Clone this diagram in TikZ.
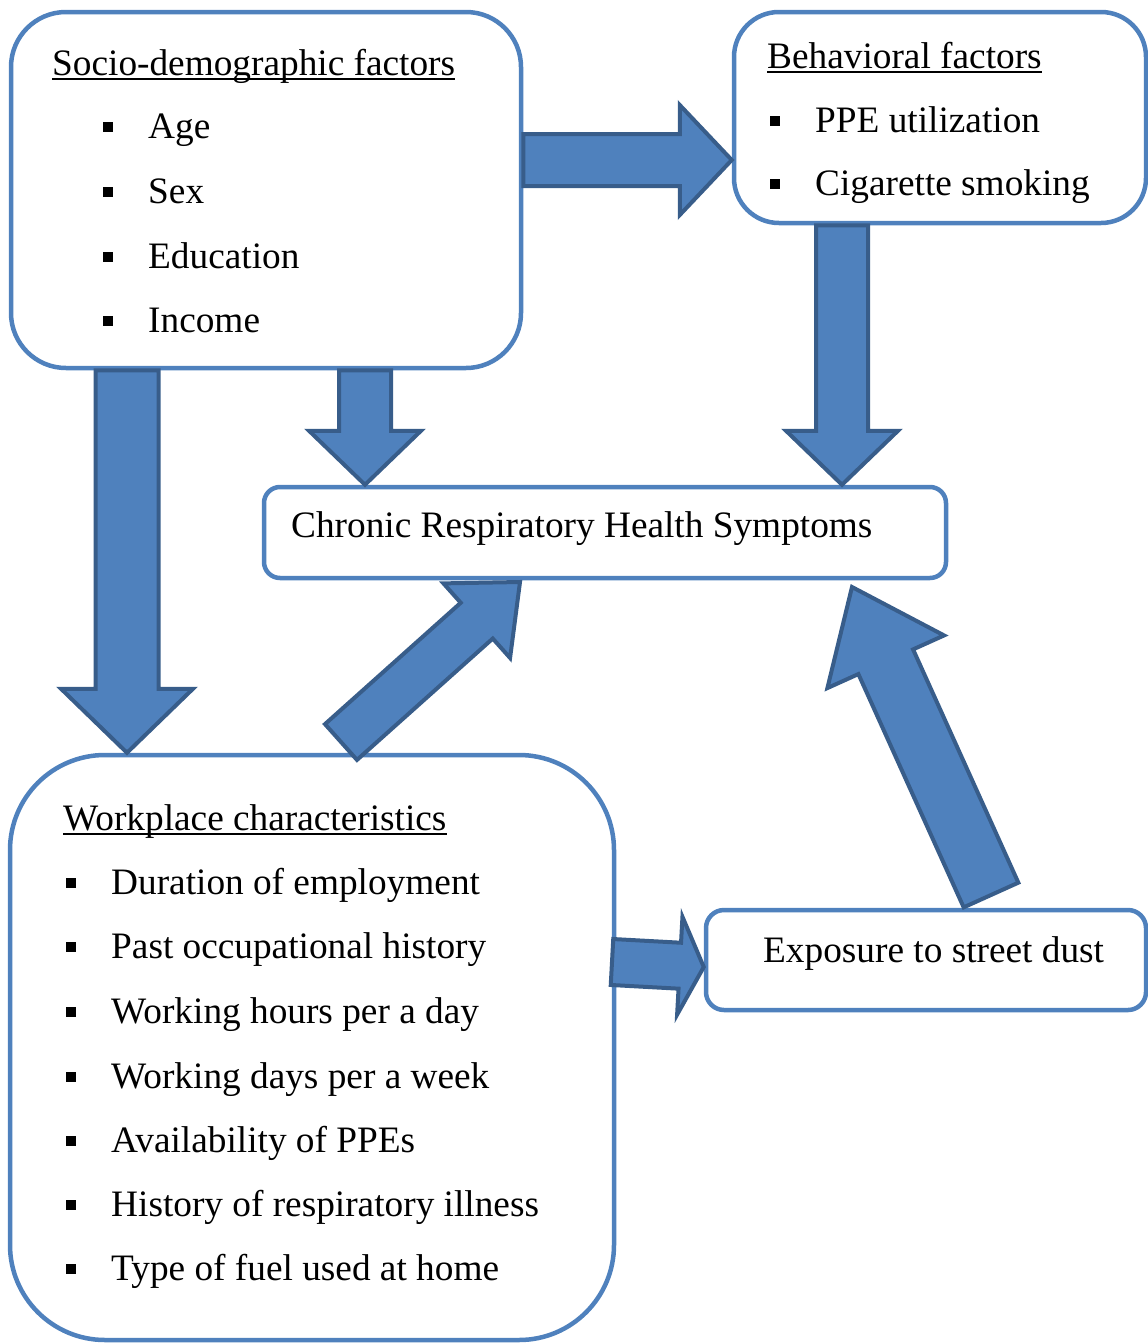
\documentclass[tikz,border=0pt]{standalone}
\usepackage{fontspec}
\setmainfont{Liberation Serif}
\usetikzlibrary{calc}
\definecolor{boxblue}{HTML}{4F81BD}
\definecolor{arrowedge}{HTML}{385D8A}
\tikzset{
  rbox/.style={draw=boxblue, line width=4.5pt, fill=white, rectangle, inner sep=0pt},
  barrow/.style={fill=boxblue, draw=arrowedge, line width=4pt, line join=miter},
  txt/.style={anchor=base west, inner sep=0pt, font=\fontsize{37.3}{44}\selectfont},
  ulline/.style={line width=2pt},
}
\newcommand\bul{\rule[6pt]{10pt}{10pt}}
\newcommand\itm[1]{\makebox[45pt][l]{\bul}#1}
% #1 name, #2 tail, #3 tip, #4 half shaft, #5 half head, #6 head length
\newcommand\blockarrow[6]{%
  \coordinate (#1-n) at ($(#3)!#6!(#2)$);
  \draw[barrow] ($(#2)!#4!90:(#3)$) -- ($(#1-n)!#4!90:(#3)$) -- ($(#1-n)!#5!90:(#3)$) -- (#3)
    -- ($(#1-n)!#5!-90:(#3)$) -- ($(#1-n)!#4!-90:(#3)$) -- ($(#2)!#4!-90:(#3)$) -- cycle;
}
\begin{document}
\begin{tikzpicture}[x=1pt,y=-1pt]
\useasboundingbox (0,0) rectangle (1148,1344);
% boxes
\node[rbox, rounded corners=55pt, minimum width=510pt, minimum height=356pt] (socio) at (266,190) {};
\node[rbox, rounded corners=45pt, minimum width=412pt, minimum height=211pt] (behav) at (940,117.5) {};
\node[rbox, rounded corners=16pt, minimum width=682pt, minimum height=91pt] (chronic) at (605,532.5) {};
\node[rbox, rounded corners=95pt, minimum width=604pt, minimum height=585pt] (work) at (312,1047.5) {};
\node[rbox, rounded corners=18pt, minimum width=440pt, minimum height=100pt] (expo) at (926,960) {};

% texts
\node[txt] (sh) at (52,75) {Socio-demographic factors};
\draw[ulline] ([yshift=-4pt]sh.base west) -- ([yshift=-4pt]sh.base east);
\node[txt] (s1) at (103,138) {\itm{Age}};
\node[txt] (s2) at (103,203) {\itm{Sex}};
\node[txt] (s3) at (103,268) {\itm{Education}};
\node[txt] (s4) at (103,332) {\itm{Income}};

\node[txt] (bh) at (767,68) {Behavioral factors};
\draw[ulline] ([yshift=-4pt]bh.base west) -- ([yshift=-4pt]bh.base east);
\node[txt] (b1) at (770,132) {\itm{PPE utilization}};
\node[txt] (b2) at (770,195) {\itm{Cigarette smoking}};

\node[txt] (ct) at (291,537) {Chronic Respiratory Health Symptoms};

\node[txt] (wh) at (63,830) {Workplace characteristics};
\draw[ulline] ([yshift=-4pt]wh.base west) -- ([yshift=-4pt]wh.base east);
\node[txt] (w1) at (66,894) {\itm{Duration of employment}};
\node[txt] (w2) at (66,958) {\itm{Past occupational history}};
\node[txt] (w3) at (66,1023) {\itm{Working hours per a day}};
\node[txt] (w4) at (66,1088) {\itm{Working days per a week}};
\node[txt] (w5) at (66,1152) {\itm{Availability of PPEs}};
\node[txt] (w6) at (66,1216) {\itm{History of respiratory illness}};
\node[txt] (w7) at (66,1280) {\itm{Type of fuel used at home}};

\node[txt] (et) at (763,962) {Exposure to street dust};

% arrow end points
\coordinate (a1t) at (socio.east |- 0,160);
\coordinate (a1h) at (behav.west |- 0,160);
\coordinate (a2t) at (842,0 |- behav.south);
\coordinate (a2h) at (842,0 |- chronic.north);
\coordinate (a3t) at (365,0 |- socio.south);
\coordinate (a3h) at (365,0 |- chronic.north);
\coordinate (a4t) at (127,0 |- socio.south);
\coordinate (a4h) at (127,0 |- work.north);
\coordinate (a5t) at (341,742);
\coordinate (a5h) at (520,582);
\coordinate (a6t) at (991,895);
\coordinate (a6h) at (852,587);
\coordinate (a7t) at (612,962);
\coordinate (a7h) at (expo.west |- 0,967);

% arrows
\blockarrow{a1}{a1t}{a1h}{26pt}{55pt}{52pt}
\blockarrow{a2}{a2t}{a2h}{26pt}{56pt}{54pt}
\blockarrow{a3}{a3t}{a3h}{26pt}{56pt}{54pt}
\blockarrow{a4}{a4t}{a4h}{31.5pt}{66pt}{64pt}
\blockarrow{a5}{a5t}{a5h}{24pt}{50pt}{58pt}
\blockarrow{a6}{a6t}{a6h}{30pt}{64pt}{82pt}
\blockarrow{a7}{a7t}{a7h}{23pt}{49pt}{24pt}
\end{tikzpicture}
\end{document}
